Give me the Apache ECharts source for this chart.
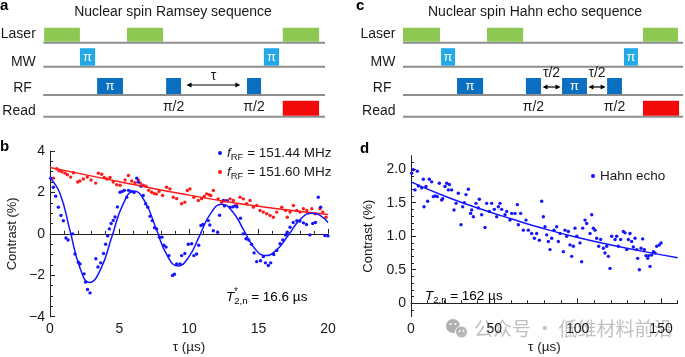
<!DOCTYPE html>
<html><head><meta charset="utf-8">
<script src="https://cdn.jsdelivr.net/npm/echarts@6/dist/echarts.min.js"></script>
<style>html,body{margin:0;padding:0;background:#fff}#c{width:685px;height:357px}</style>
</head><body><div id="c"></div>
<script>
// ---------- data ----------
const channels = ['Laser', 'MW', 'RF', 'Read'];
// pulse timing in arbitrary time units (0-100): [start, end, channelIndex, label]
const ramseyPulses = [
  [0.3, 13, 0, ''], [29.7, 42.5, 0, ''], [85, 97.9, 0, ''],
  [13, 18.4, 1, 'π'], [78.3, 83.7, 1, 'π'],
  [19.1, 28.3, 2, 'π'], [43.6, 48.9, 2, 'π/2'], [72.3, 77.3, 2, 'π/2'],
  [85, 97.9, 3, '']
];
const ramseyArrows = [[50.3, 70.5, 2, 'τ']];
const echoPulses = [
  [0, 13.2, 0, ''], [30, 42.9, 0, ''], [85.7, 98.2, 0, ''],
  [13.6, 18.6, 1, 'π'], [78.9, 83.9, 1, 'π'],
  [19.3, 28.6, 2, 'π'], [43.9, 49.3, 2, 'π/2'], [56.8, 65.7, 2, 'π'], [72.9, 78.2, 2, 'π/2'],
  [85.7, 98.6, 3, '']
];
const echoArrows = [[49.3, 56.8, 2, 'τ/2'], [65.7, 72.9, 2, 'τ/2']];

// panel b: Ramsey data (tau in us, contrast in %)
const ramseyBlue = [[0.05,2.69],[0.24,2.25],[0.41,1.82],[0.6,1.29],[0.79,0.89],[0.96,0.63],[1.15,-0.2],[1.3,-0.3],[1.63,0.0],[1.8,-0.97],[2.04,-1.37],[2.16,-1.45],[2.45,-1.93],[2.55,-2.33],[2.7,-2.69],[2.88,-2.85],[3.3,-1.2],[3.45,-1.6],[3.65,-1.4],[3.85,-0.95],[4.0,-0.5],[4.15,-0.1],[4.27,0.24],[4.4,0.5],[4.55,0.65],[4.68,0.81],[4.85,1.3],[5.04,2.01],[5.2,2.05],[5.35,2.1],[5.52,1.77],[5.65,2.1],[5.85,2.05],[6.05,2.0],[6.24,2.69],[6.35,2.5],[6.55,2.3],[6.71,1.85],[6.88,1.45],[7.03,1.29],[7.2,0.85],[7.36,0.64],[7.52,0.3],[7.67,0.24],[7.87,-0.16],[8.05,-0.16],[8.2,-0.55],[8.35,-0.64],[8.55,-1.05],[8.82,-2.01],[8.95,-1.95],[9.11,-1.45],[9.35,-1.45],[9.47,-1.05],[9.7,-0.95],[9.95,-0.5],[10.19,-0.48],[10.35,-1.05],[10.55,-0.97],[10.7,-0.55],[10.86,0.4],[11.0,0.45],[11.39,0.64],[11.5,0.43],[11.75,0.15],[12.06,0.08],[12.2,0.9],[12.47,1.61],[12.55,1.35],[12.75,1.6],[12.95,1.29],[13.15,1.3],[13.3,1.35],[13.45,1.3],[13.7,0.75],[13.9,0.0],[14.1,-0.24],[14.3,-0.3],[14.5,-0.5],[14.68,-0.92],[14.87,-1.34],[15.15,-1.3],[15.35,-1.1],[15.5,-1.4],[15.71,-1.53],[15.88,-1.4],[16.1,-1.0],[16.31,-0.8],[16.55,-0.48],[16.75,-0.3],[16.95,-0.05],[17.07,0.08],[17.27,0.32],[17.5,0.55],[17.75,0.64],[17.98,0.62],[18.23,0.53],[18.45,0.45],[18.7,-0.05],[18.9,0.5],[19.1,0.55],[19.3,1.77],[19.47,1.29],[19.78,-0.08],[20.0,-0.1]];
const ramseyRed = [[0.24,2.69],[0.48,3.14],[0.65,3.05],[0.85,3.0],[1.08,2.93],[1.25,2.85],[1.49,2.74],[1.68,2.95],[1.99,2.5],[2.15,2.55],[2.4,2.65],[2.68,2.74],[2.95,2.6],[3.29,2.45],[3.48,2.93],[3.72,2.88],[3.9,2.72],[4.08,2.65],[4.32,2.72],[4.55,2.5],[4.8,2.37],[5.04,2.35],[5.4,2.6],[5.64,2.82],[5.88,2.55],[6.12,2.47],[6.35,2.6],[6.5,2.45],[6.71,2.35],[6.9,2.3],[7.1,2.1],[7.31,2.01],[7.5,1.95],[7.67,1.92],[7.85,2.05],[8.1,1.85],[8.39,2.25],[8.63,2.17],[8.87,1.77],[9.11,1.7],[9.47,1.45],[9.7,1.53],[9.88,2.09],[10.07,2.17],[10.35,1.77],[10.67,1.61],[10.9,1.7],[11.1,1.8],[11.27,1.93],[11.45,1.89],[11.57,1.85],[11.75,2.09],[12.1,1.69],[12.35,1.53],[12.59,1.6],[12.95,1.69],[13.19,1.61],[13.43,1.37],[13.67,1.77],[13.91,1.69],[14.15,1.45],[14.39,1.61],[14.63,1.29],[14.87,1.37],[15.11,1.13],[15.35,1.05],[15.59,0.97],[15.83,0.89],[16.07,0.8],[16.31,1.05],[16.67,1.29],[16.95,1.13],[17.07,0.8],[17.27,1.05],[17.51,1.37],[17.75,1.13],[17.99,1.05],[18.23,1.21],[18.47,1.13],[18.83,1.21],[19.07,0.97],[19.43,1.21],[19.62,1.05],[19.86,0.8]];
const ramseyBlueFit = [[0,2.7],[0.71,1.96],[1.43,0.18],[2.14,-1.61],[2.85,-2.35],[3.65,-1.7],[4.45,-0.14],[5.25,1.42],[6.05,2.07],[6.84,1.54],[7.63,0.26],[8.41,-1.02],[9.2,-1.55],[9.99,-1.11],[10.78,-0.06],[11.56,0.99],[12.35,1.43],[13.14,1.07],[13.93,0.19],[14.71,-0.69],[15.5,-1.05],[16.34,-0.75],[17.18,-0.03],[18.01,0.7],[18.85,1.0],[19.4,0.9],[20,0.55]];
const ramseyRedFit = [[0,3.2],[2.5,2.86],[5,2.52],[7.5,2.18],[10,1.87],[12.5,1.58],[15,1.33],[17.5,1.12],[20,0.93]];
const ramseyNames = ['151.44', '151.60'];

// panel d: Hahn echo data
const echoData = [[0.4,1.94],[1.4,1.99],[2.4,1.69],[3.8,1.97],[4.4,1.75],[6.4,1.72],[7.4,1.85],[7.8,1.44],[9,1.74],[10,1.52],[11,1.85],[12.4,1.81],[13.4,1.59],[14.6,1.6],[15.8,1.59],[17,1.79],[18.4,1.54],[19,1.56],[20.4,1.74],[21.4,1.79],[22.4,1.69],[23,1.77],[24.4,1.69],[25.8,1.39],[27,1.49],[28.4,1.64],[30,1.17],[31,1.44],[32,1.5],[33,1.62],[34.4,1.7],[35.8,1.34],[36.4,1.39],[37.4,1.29],[39,1.49],[40.4,1.42],[41,1.55],[42.4,1.32],[44.4,1.13],[45.4,1.49],[47,1.37],[48.4,1.49],[50,1.4],[51.4,1.29],[52.4,1.44],[53.4,1.49],[54.4,1.4],[56.4,1.32],[57.4,1.37],[59.4,1.24],[60.4,1.34],[62.4,1.34],[63.8,1.47],[64.4,1.17],[65.8,1.34],[67.4,1.09],[69,1.24],[70.4,1.09],[72.4,1.04],[74,0.97],[75.4,1.04],[77,0.94],[78.4,1.52],[79.4,1.29],[80.4,1.14],[81.4,1.02],[82.4,0.92],[83.4,0.8],[84.4,0.97],[85.8,1.09],[87.4,1.14],[88.4,0.92],[89.4,1.04],[91.4,0.77],[92.4,1.09],[93.4,1.0],[94.4,1.07],[95.4,0.87],[96.4,0.7],[97.4,0.85],[98.4,1.12],[99.4,1.0],[101.4,0.9],[102.4,0.62],[103,1.12],[104.4,1.24],[105.4,1.19],[107.4,1.04],[108.4,1.32],[109.4,1.12],[110.4,1.09],[111.4,0.97],[112.6,0.85],[113.8,0.95],[115.4,0.82],[116.4,0.75],[117.4,0.85],[118.4,0.7],[119.4,0.52],[120.4,1.0],[122.4,0.95],[123.4,1.0],[124.4,0.85],[125.8,0.95],[127.4,1.07],[128.4,1.05],[129.4,0.8],[130.4,0.95],[131.4,1.04],[132.4,0.92],[133.4,0.84],[134.4,0.97],[135.4,0.8],[136,0.67],[137,0.5],[138,0.82],[139,0.96],[140,0.8],[141,0.71],[142,0.67],[142.6,0.71],[143.4,0.55],[144.4,0.72],[145.4,0.77],[146.4,0.75],[147.4,0.85],[149,0.87],[150,0.9]];
const echoFit = [[0,1.81],[20,1.6],[40,1.42],[60,1.26],[80,1.11],[100,0.98],[120,0.87],[140,0.77],[160,0.68]];

// tick values
const dXMajor = [0, 50, 100, 150];
const dXMinor = [10,20,30,40,60,70,80,90,110,120,130,140,160];
const dYMajor = [0, 0.5, 1.0, 1.5, 2.0];
const dYMinor = [-0.1,0.1,0.2,0.3,0.4,0.6,0.7,0.8,0.9,1.1,1.2,1.3,1.4,1.6,1.7,1.8,1.9,2.1];

// ---------- style / layout ----------
const FONT = '"Liberation Sans", Arial, Helvetica, sans-serif';
const TXT = '#1a1a1a';
const rowLevel = [0, 0.973, 2.12, 3];
const pulseH = [14, 17.5, 16, 15];
const pulseColor = ['#8dc853', '#22a9e6', '#0b6fc1', '#f20a0a'];
const labelRaise = [9, 5, 6.5, 6];
const labelShift = [0, 0, 4, 0];
const BLUE = '#1414ff', RED = '#ff1a1a';

function seqSeries(idx, pulses, arrows, arrowRaise, arrowLabelRaise) {
  return [
    {
      type: 'custom', coordinateSystem: 'cartesian2d', xAxisIndex: idx, yAxisIndex: idx,
      clip: false, silent: true, z: 2,
      data: channels.map((c, i) => [0, rowLevel[i]]),
      renderItem: (params, api) => {
        const i = params.dataIndex;
        const p0 = api.coord([0, rowLevel[i]]), p1 = api.coord([100, rowLevel[i]]);
        return { type: 'group', children: [
          { type: 'line', shape: { x1: p0[0], y1: p0[1], x2: p1[0], y2: p1[1] }, style: { stroke: '#8e8e8e', lineWidth: 2 } },
          { type: 'text', style: { text: channels[i], x: p0[0] - 7.5 - labelShift[i], y: p0[1] - labelRaise[i], align: 'right', verticalAlign: 'middle', font: '14px ' + FONT, fill: TXT } }
        ]};
      }
    },
    {
      type: 'custom', coordinateSystem: 'cartesian2d', xAxisIndex: idx, yAxisIndex: idx,
      clip: false, silent: true, z: 3,
      data: pulses.map(p => [p[0], rowLevel[p[2]], p[1]]),
      renderItem: (params, api) => {
        const p = pulses[params.dataIndex];
        const ch = p[2];
        const a = api.coord([p[0], rowLevel[ch]]), b = api.coord([p[1], rowLevel[ch]]);
        const h = pulseH[ch], yb = a[1] - 1;
        const kids = [{ type: 'rect', shape: { x: a[0], y: yb - h, width: b[0] - a[0], height: h }, style: { fill: pulseColor[ch] } }];
        if (p[3] === 'π') {
          kids.push({ type: 'text', style: { text: 'π', x: (a[0] + b[0]) / 2, y: yb - h / 2, align: 'center', verticalAlign: 'middle', font: '13px ' + FONT, fill: '#fff' } });
        } else if (p[3]) {
          kids.push({ type: 'text', style: { text: p[3], x: (a[0] + b[0]) / 2, y: a[1] + 12, align: 'center', verticalAlign: 'middle', font: '14px ' + FONT, fill: TXT } });
        }
        return { type: 'group', children: kids };
      }
    },
    {
      type: 'custom', coordinateSystem: 'cartesian2d', xAxisIndex: idx, yAxisIndex: idx,
      clip: false, silent: true, z: 3,
      data: arrows.map(p => [p[0], rowLevel[p[2]], p[1]]),
      renderItem: (params, api) => {
        const p = arrows[params.dataIndex];
        const ch = p[2];
        const a = api.coord([p[0], rowLevel[ch]]), b = api.coord([p[1], rowLevel[ch]]);
        const y = a[1] - arrowRaise, x1 = a[0] + 1.5, x2 = b[0] - 1.5;
        return { type: 'group', children: [
          { type: 'line', shape: { x1: x1 + 3, y1: y, x2: x2 - 3, y2: y }, style: { stroke: '#000', lineWidth: 1.2 } },
          { type: 'polygon', shape: { points: [[x1, y], [x1 + 5, y - 2.6], [x1 + 5, y + 2.6]] }, style: { fill: '#000' } },
          { type: 'polygon', shape: { points: [[x2, y], [x2 - 5, y - 2.6], [x2 - 5, y + 2.6]] }, style: { fill: '#000' } },
          { type: 'text', style: { text: p[3], x: (a[0] + b[0]) / 2, y: a[1] - arrowLabelRaise, align: 'center', verticalAlign: 'middle', font: '14px ' + FONT, fill: TXT } }
        ]};
      }
    }
  ];
}

const hiddenX = gi => ({ type: 'value', gridIndex: gi, min: 0, max: 100, show: false });
const hiddenY = gi => ({ type: 'value', gridIndex: gi, min: 0, max: 3, inverse: true, show: false });
const axLine = { show: true, lineStyle: { color: '#222', width: 1 } };
const lab = { fontSize: 14, color: TXT, fontFamily: FONT };

const rich = {
  i: { fontStyle: 'italic', fontSize: 13.5, fontFamily: FONT, color: TXT, lineHeight: 18, verticalAlign: 'middle' },
  s: { fontSize: 9.5, fontFamily: FONT, color: TXT, lineHeight: 10, verticalAlign: 'bottom' },
  n: { fontSize: 13.5, fontFamily: FONT, color: TXT, lineHeight: 18, verticalAlign: 'middle' }
};

const chart = echarts.init(document.getElementById('c'));
chart.setOption({
  animation: false,
  backgroundColor: '#fff',
  textStyle: { fontFamily: FONT },
  grid: [
    { left: 43.3, top: 42.7, width: 281.7, height: 74 },
    { left: 403, top: 42.7, width: 280, height: 74 },
    { left: 50, top: 151, width: 278, height: 165.7 },
    { left: 411, top: 155.7, width: 266.7, height: 161 }
  ],
  xAxis: [
    hiddenX(0), hiddenX(1),
    { type: 'value', gridIndex: 2, min: 0, max: 20, interval: 5, axisLine: axLine,
      axisTick: { inside: true, length: 5, lineStyle: { color: '#222' } },
      minorTick: { show: true, splitNumber: 5, length: 3, lineStyle: { color: '#222' } },
      splitLine: { show: false }, axisLabel: Object.assign({ margin: 5 }, lab),
      name: 'τ (µs)', nameLocation: 'middle', nameGap: 24, nameTextStyle: { fontSize: 13.5, color: TXT, fontFamily: FONT } },
    { type: 'value', gridIndex: 3, min: 0, max: 160, axisLine: axLine,
      axisTick: { inside: true, length: 5, customValues: dXMajor, lineStyle: { color: '#222' } },
      splitLine: { show: false }, axisLabel: Object.assign({ margin: 5, customValues: dXMajor }, lab),
      name: 'τ (µs)', nameLocation: 'middle', nameGap: 24, nameTextStyle: { fontSize: 13.5, color: TXT, fontFamily: FONT } },
    { type: 'value', gridIndex: 3, position: 'bottom', min: 0, max: 160, axisLine: { show: false },
      axisTick: { inside: true, length: 3, customValues: dXMinor, lineStyle: { color: '#222' } },
      splitLine: { show: false }, axisLabel: { show: false } }
  ],
  yAxis: [
    hiddenY(0), hiddenY(1),
    { type: 'value', gridIndex: 2, min: -4, max: 4, interval: 2, axisLine: axLine,
      axisTick: { inside: true, length: 5, lineStyle: { color: '#222' } },
      minorTick: { show: true, splitNumber: 4, length: 3, lineStyle: { color: '#222' } },
      splitLine: { show: false },
      axisLabel: Object.assign({ margin: 5, formatter: v => v < 0 ? '−' + Math.abs(v) : String(v) }, lab),
      name: 'Contrast (%)', nameLocation: 'middle', nameGap: 31, nameTextStyle: { fontSize: 13, color: TXT, fontFamily: FONT } },
    { type: 'value', gridIndex: 3, min: -0.2, max: 2.2, axisLine: axLine,
      axisTick: { inside: true, length: 5, customValues: dYMajor, lineStyle: { color: '#222' } },
      splitLine: { show: false },
      axisLabel: Object.assign({ margin: 5, customValues: dYMajor, formatter: v => v === 0 ? '0' : v.toFixed(1) }, lab),
      name: 'Contrast (%)', nameLocation: 'middle', nameGap: 36, nameTextStyle: { fontSize: 13, color: TXT, fontFamily: FONT } },
    { type: 'value', gridIndex: 3, position: 'left', min: -0.2, max: 2.2, axisLine: { show: false },
      axisTick: { inside: true, length: 3, customValues: dYMinor, lineStyle: { color: '#222' } },
      splitLine: { show: false }, axisLabel: { show: false } }
  ],
  legend: [
    { data: [ramseyNames[0], ramseyNames[1]], orient: 'vertical', left: 213, top: 141, itemGap: 3,
      icon: 'circle', itemWidth: 4, itemHeight: 4, selectedMode: false,
      formatter: n => '{i|f}{s|RF}{n| = ' + n + ' MHz}', textStyle: { rich: rich } },
    { data: ['Hahn echo'], left: 586, top: 164, icon: 'circle', itemWidth: 4, itemHeight: 4, selectedMode: false,
      textStyle: { fontSize: 13.5, color: TXT, fontFamily: FONT } }
  ],
  series: [
    ...seqSeries(0, ramseyPulses, ramseyArrows, 10, 18.5),
    ...seqSeries(1, echoPulses, echoArrows, 8, 21.5),
    { name: ramseyNames[1], type: 'scatter', xAxisIndex: 2, yAxisIndex: 2, data: ramseyRed, symbolSize: 3.4, itemStyle: { color: RED, opacity: 1 }, z: 3 },
    { name: ramseyNames[0], type: 'scatter', xAxisIndex: 2, yAxisIndex: 2, data: ramseyBlue, symbolSize: 3.4, itemStyle: { color: BLUE, opacity: 1 }, z: 3 },
    { type: 'line', xAxisIndex: 2, yAxisIndex: 2, data: ramseyRedFit, smooth: true, showSymbol: false, lineStyle: { color: RED, width: 1.5 }, z: 4 },
    { type: 'line', xAxisIndex: 2, yAxisIndex: 2, data: ramseyBlueFit, smooth: 0.5, showSymbol: false, lineStyle: { color: BLUE, width: 1.5 }, z: 4 },
    { name: 'Hahn echo', type: 'scatter', xAxisIndex: 3, yAxisIndex: 3, data: echoData, symbolSize: 3.4, itemStyle: { color: BLUE, opacity: 1 }, z: 3 },
    { type: 'line', xAxisIndex: 3, yAxisIndex: 3, data: echoFit, smooth: true, showSymbol: false, lineStyle: { color: BLUE, width: 1.5 }, z: 4 }
  ],
  graphic: [
    { type: 'text', x: 0, y: -2, style: { text: 'a', font: 'bold 15px ' + FONT, fill: '#000' } },
    { type: 'text', x: 0, y: 139, style: { text: 'b', font: 'bold 15px ' + FONT, fill: '#000' } },
    { type: 'text', x: 356, y: -2, style: { text: 'c', font: 'bold 15px ' + FONT, fill: '#000' } },
    { type: 'text', x: 360, y: 141, style: { text: 'd', font: 'bold 15px ' + FONT, fill: '#000' } },
    { type: 'text', x: 173, y: 12, style: { text: 'Nuclear spin Ramsey sequence', font: '14px ' + FONT, fill: TXT, align: 'center', verticalAlign: 'middle' } },
    { type: 'text', x: 535, y: 12, style: { text: 'Nuclear spin Hahn echo sequence', font: '14px ' + FONT, fill: TXT, align: 'center', verticalAlign: 'middle' } },
    { type: 'text', x: 226, y: 288, style: { text: '{i|T}{s|2,n}{n| = 16.6 µs}', rich: rich } },
    { type: 'text', x: 234, y: 287, style: { text: '*', font: '10px ' + FONT, fill: TXT } },
    { type: 'text', x: 425, y: 287, style: { text: '{i|T}{s|2,n}{n| = 162 µs}', rich: rich } },
    // watermark
    { type: 'group', z: 100, children: [
      { type: 'circle', shape: { cx: 453, cy: 326, r: 7 }, style: { fill: 'rgba(150,150,150,0.75)' } },
      { type: 'circle', shape: { cx: 461.5, cy: 332, r: 6 }, style: { fill: 'rgba(160,160,160,0.75)', stroke: '#fff', lineWidth: 1 } },
      { type: 'circle', shape: { cx: 450.5, cy: 324, r: 1 }, style: { fill: '#fff' } },
      { type: 'circle', shape: { cx: 455.5, cy: 324, r: 1 }, style: { fill: '#fff' } },
      { type: 'circle', shape: { cx: 459.5, cy: 331, r: 0.9 }, style: { fill: '#fff' } },
      { type: 'circle', shape: { cx: 463.5, cy: 331, r: 0.9 }, style: { fill: '#fff' } },
      { type: 'text', x: 474, y: 329, style: { text: '公众号 · 低维材料前沿', font: '19px "Noto Sans CJK SC"', fill: 'rgba(150,150,150,0.6)', verticalAlign: 'middle' } }
    ]}
  ]
});
</script></body></html>
